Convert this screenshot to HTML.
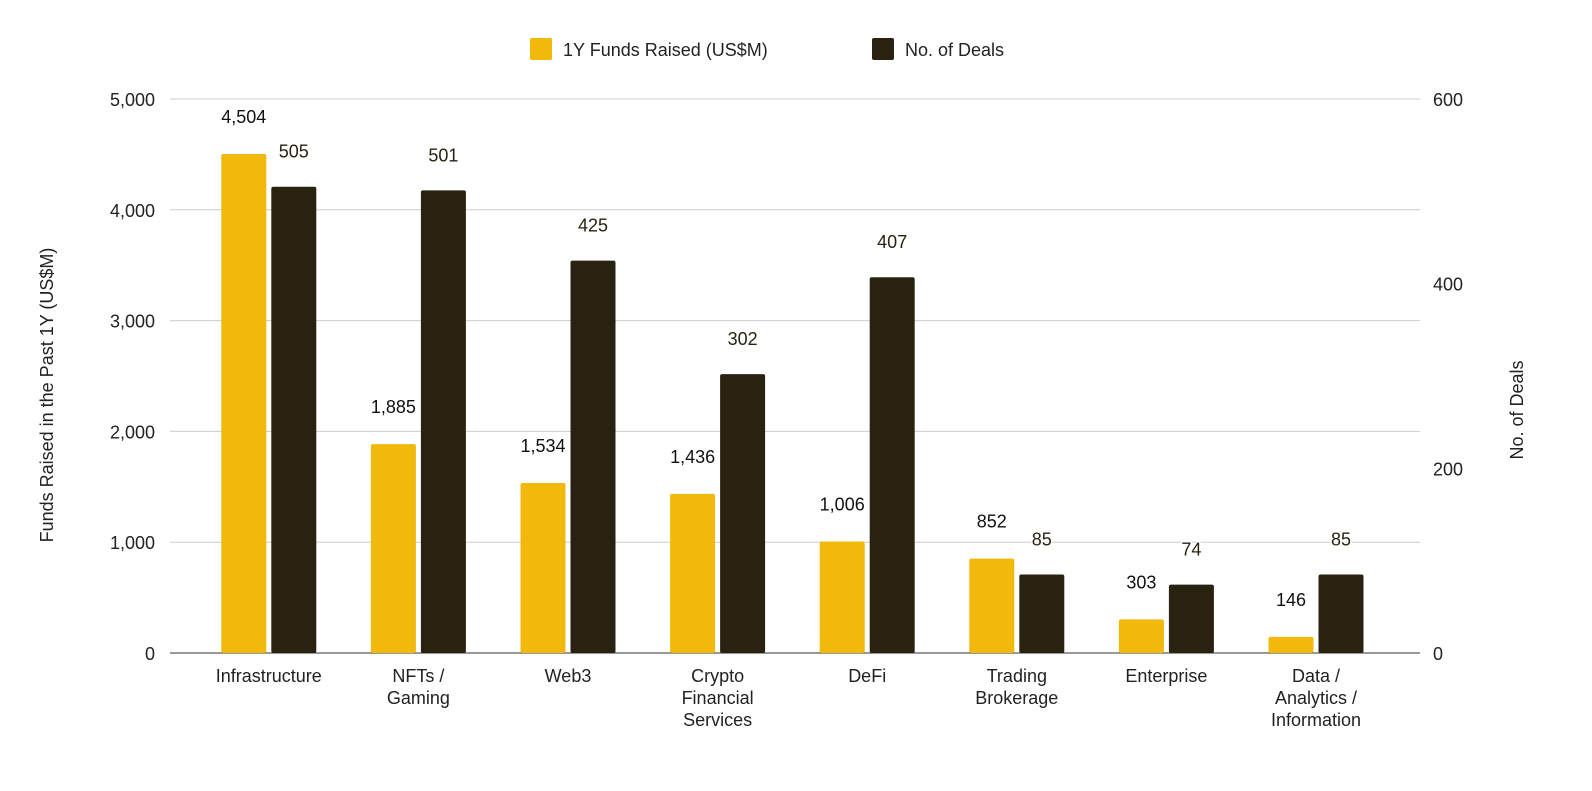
<!DOCTYPE html>
<html><head><meta charset="utf-8"><style>
body{margin:0;background:#fff;font-family:"Liberation Sans",Arial,sans-serif;}
svg text{font-family:"Liberation Sans",Arial,sans-serif;}
</style></head><body>
<svg id="chart" width="1592" height="786" xmlns="http://www.w3.org/2000/svg">
<g id="legend">
 <rect x="530" y="38" width="22" height="22" rx="2" fill="#F0B90B"/>
 <text x="563" y="56" font-size="18" fill="#222">1Y Funds Raised (US$M)</text>
 <rect x="872" y="38" width="22" height="22" rx="2" fill="#2A2210"/>
 <text x="905" y="56" font-size="18" fill="#222">No. of Deals</text>
</g>
<text transform="translate(53,395) rotate(-90)" text-anchor="middle" font-size="18" fill="#222">Funds Raised in the Past 1Y (US$M)</text>
<text transform="translate(1523,410) rotate(-90)" text-anchor="middle" font-size="18" fill="#222">No. of Deals</text>
<g id="grid"></g><g id="bars"></g><g id="labels"></g>
</svg>
<script>
const categories=[["Infrastructure"],["NFTs /","Gaming"],["Web3"],["Crypto","Financial","Services"],["DeFi"],["Trading","Brokerage"],["Enterprise"],["Data /","Analytics /","Information"]];
const funds=[4504,1885,1534,1436,1006,852,303,146];
const deals=[505,501,425,302,407,85,74,85];
const leftTicks=[0,1000,2000,3000,4000,5000];
const rightTicks=[0,200,400,600];
const NS="http://www.w3.org/2000/svg";
const y0=653,yTop=99,x0=194,groupW=149.6;
const yL=v=>y0-(v/5000)*(y0-yTop);
const yR=v=>y0-(v/600)*(y0-yTop);
const xC=i=>x0+groupW*(i+0.5);
function mk(tag,attrs,parent,txt){const e=document.createElementNS(NS,tag);for(const k in attrs)e.setAttribute(k,attrs[k]);if(txt!==undefined)e.textContent=txt;parent.appendChild(e);return e;}
const grid=document.getElementById('grid'),bars=document.getElementById('bars'),labels=document.getElementById('labels');
leftTicks.forEach(t=>{
 const l=mk('line',{x1:170,x2:1420,y1:yL(t),y2:yL(t),stroke:t===0?'#333':'#ccc','stroke-width':1},grid);
 
 
 const tx=mk('text',{x:155,y:yL(t)+7,'text-anchor':'end','font-size':18,fill:'#222'},grid,t.toLocaleString('en-US'));
 
 
});
rightTicks.forEach(t=>{
 const tx=mk('text',{x:1433,y:yR(t)+7,'text-anchor':'start','font-size':18,fill:'#222'},grid,String(t));
 
 
});
categories.forEach((c,i)=>{
 const cx=xC(i);
 const bw=45;
 const fy=yL(funds[i]);
 const b1=mk('rect',{x:cx-bw-2.5,y:fy,width:bw,height:y0-fy,rx:2,fill:'#F0B90B'},bars);
 
 
 const dy=yR(deals[i]);
 const b2=mk('rect',{x:cx+2.5,y:dy,width:bw,height:y0-dy,rx:2,fill:'#2A2210'},bars);
 
 
 const l1=mk('text',{x:cx-bw/2-2.5,y:fy-31,'text-anchor':'middle','font-size':18,fill:'#111',stroke:'#fff','stroke-width':3,'paint-order':'stroke'},labels,funds[i].toLocaleString('en-US'));
 
 
 const l2=mk('text',{x:cx+bw/2+2.5,y:dy-29,'text-anchor':'middle','font-size':18,fill:'#2A2210',stroke:'#fff','stroke-width':3,'paint-order':'stroke'},labels,String(deals[i]));
 
 
 c.forEach((line,j)=>{
  const t=mk('text',{x:cx,y:682+j*22,'text-anchor':'middle','font-size':18,fill:'#222'},labels,line);
  
  
 });
});
</script>
</body></html>
